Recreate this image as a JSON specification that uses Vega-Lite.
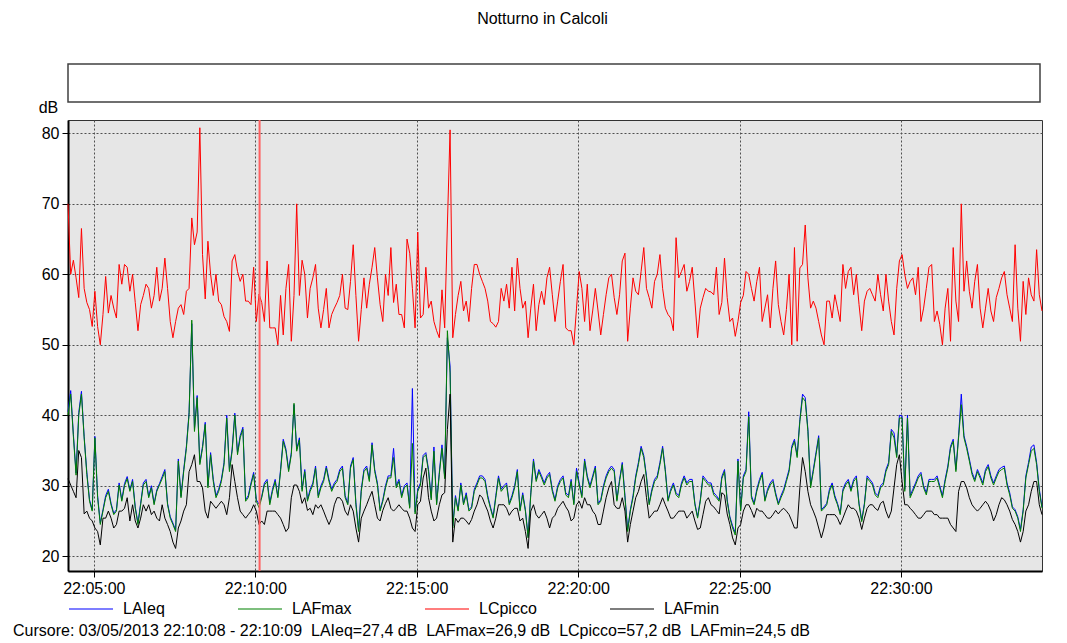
{
"$schema": "https://vega.github.io/schema/vega-lite/v6.json",
"autosize": {"type": "pad"},
"padding": {"left": 12, "top": 11, "right": 20, "bottom": 2},
"background": "white",
"title": {"text": "Notturno in Calcoli", "anchor": "middle", "fontSize": 16, "fontWeight": "normal", "color": "black", "offset": 36, "dx": 14},
"bounds": "flush",
"spacing": 18,
"resolve": {"legend": {"color": "independent"}, "scale": {"color": "independent"}},
"vconcat": [
{
"width": 972, "height": 38,
"data": {"values": [{"k": 1}]},
"mark": {"type": "text", "text": " "},
"encoding": {},
"view": {"fill": "white", "stroke": "#404040", "strokeWidth": 1.5}
},
{
"width": 974, "height": 451,
"view": {"fill": "#e6e6e6", "stroke": "#333333", "strokeWidth": 1},
"title": {"text": "Cursore: 03/05/2013 22:10:08 - 22:10:09 \u00a0LAIeq=27,4 dB \u00a0LAFmax=26,9 dB \u00a0LCpicco=57,2 dB \u00a0LAFmin=24,5 dB", "orient": "bottom", "anchor": "start", "frame": "group", "dx": -55, "offset": 6, "fontSize": 16, "fontWeight": "normal", "color": "black"},
"data": {"values": [
{"t":"2013-05-03T22:04:12","c":70,"m":40,"a":40.5,"n":31},
{"t":"2013-05-03T22:04:17","c":60,"m":43,"a":43.5,"n":30.1},
{"t":"2013-05-03T22:04:22","c":62,"m":37,"a":37.3,"n":29.2},
{"t":"2013-05-03T22:04:27","c":59.5,"m":31.5,"a":31.8,"n":28.3},
{"t":"2013-05-03T22:04:32","c":56.7,"m":40,"a":40.4,"n":35},
{"t":"2013-05-03T22:04:37","c":66.5,"m":43,"a":43.4,"n":34},
{"t":"2013-05-03T22:04:42","c":58,"m":36.8,"a":37,"n":26},
{"t":"2013-05-03T22:04:47","c":56,"m":31.6,"a":31.9,"n":26.4},
{"t":"2013-05-03T22:04:52","c":55,"m":27.8,"a":28,"n":25.4},
{"t":"2013-05-03T22:04:57","c":52.6,"m":26.4,"a":26.6,"n":25},
{"t":"2013-05-03T22:05:02","c":57.6,"m":36.8,"a":37,"n":24},
{"t":"2013-05-03T22:05:07","c":52.6,"m":28.3,"a":28.6,"n":23.5},
{"t":"2013-05-03T22:05:12","c":50,"m":24.5,"a":24.7,"n":21.6},
{"t":"2013-05-03T22:05:17","c":54.3,"m":26.4,"a":26.6,"n":25.4},
{"t":"2013-05-03T22:05:22","c":59.7,"m":28.3,"a":28.6,"n":25.4},
{"t":"2013-05-03T22:05:27","c":54.5,"m":29.2,"a":29.5,"n":26.4},
{"t":"2013-05-03T22:05:32","c":57,"m":27.3,"a":27.5,"n":25.4},
{"t":"2013-05-03T22:05:37","c":55.2,"m":25.9,"a":26.1,"n":24},
{"t":"2013-05-03T22:05:42","c":53.8,"m":26.4,"a":26.6,"n":24.5},
{"t":"2013-05-03T22:05:47","c":61.4,"m":30.1,"a":30.4,"n":26.4},
{"t":"2013-05-03T22:05:52","c":58.6,"m":27.8,"a":28,"n":26.4},
{"t":"2013-05-03T22:05:57","c":61.4,"m":30,"a":30.3,"n":26.8},
{"t":"2013-05-03T22:06:02","c":61,"m":31,"a":31.3,"n":28.3},
{"t":"2013-05-03T22:06:07","c":57.6,"m":29.2,"a":29.4,"n":25},
{"t":"2013-05-03T22:06:12","c":60,"m":30.6,"a":30.9,"n":27.3},
{"t":"2013-05-03T22:06:17","c":56,"m":26.8,"a":27,"n":25},
{"t":"2013-05-03T22:06:22","c":52,"m":24.5,"a":24.7,"n":24},
{"t":"2013-05-03T22:06:27","c":55.7,"m":27.3,"a":27.5,"n":25.4},
{"t":"2013-05-03T22:06:32","c":57,"m":30.1,"a":30.4,"n":27.3},
{"t":"2013-05-03T22:06:37","c":58.6,"m":30.6,"a":30.9,"n":26.4},
{"t":"2013-05-03T22:06:42","c":58,"m":28.3,"a":28.5,"n":27.3},
{"t":"2013-05-03T22:06:47","c":55.2,"m":29.7,"a":30,"n":25.9},
{"t":"2013-05-03T22:06:52","c":57,"m":27.3,"a":27.5,"n":26.4},
{"t":"2013-05-03T22:06:57","c":61,"m":29.2,"a":29.4,"n":25.4},
{"t":"2013-05-03T22:07:02","c":56.2,"m":30.1,"a":30.3,"n":25},
{"t":"2013-05-03T22:07:07","c":58,"m":31,"a":31.3,"n":27.3},
{"t":"2013-05-03T22:07:12","c":62.3,"m":32,"a":32.3,"n":25.4},
{"t":"2013-05-03T22:07:17","c":58,"m":27.3,"a":27.5,"n":24.5},
{"t":"2013-05-03T22:07:22","c":53.3,"m":25.4,"a":25.6,"n":23.5},
{"t":"2013-05-03T22:07:27","c":51,"m":24.5,"a":24.7,"n":22},
{"t":"2013-05-03T22:07:32","c":53.3,"m":23.5,"a":23.7,"n":21.1},
{"t":"2013-05-03T22:07:37","c":55.2,"m":33.5,"a":33.8,"n":24},
{"t":"2013-05-03T22:07:42","c":55.7,"m":28.3,"a":28.5,"n":25},
{"t":"2013-05-03T22:07:47","c":54.3,"m":32,"a":32.3,"n":26.4},
{"t":"2013-05-03T22:07:52","c":57.6,"m":35.3,"a":35.6,"n":27.3},
{"t":"2013-05-03T22:07:57","c":58,"m":40.1,"a":40.4,"n":32},
{"t":"2013-05-03T22:08:02","c":68,"m":53.5,"a":53,"n":33},
{"t":"2013-05-03T22:08:07","c":64.2,"m":37.7,"a":38,"n":34.4},
{"t":"2013-05-03T22:08:12","c":66,"m":42.5,"a":42.8,"n":30.6},
{"t":"2013-05-03T22:08:17","c":80.8,"m":33,"a":33.3,"n":30.6},
{"t":"2013-05-03T22:08:22","c":62.8,"m":35.3,"a":35.6,"n":29.7},
{"t":"2013-05-03T22:08:27","c":56.5,"m":38.7,"a":39,"n":26.4},
{"t":"2013-05-03T22:08:32","c":64.7,"m":29.7,"a":30,"n":25.4},
{"t":"2013-05-03T22:08:37","c":60,"m":34.4,"a":34.7,"n":27.8},
{"t":"2013-05-03T22:08:42","c":57,"m":30.6,"a":30.9,"n":27.3},
{"t":"2013-05-03T22:08:47","c":60,"m":28.3,"a":28.6,"n":26.8},
{"t":"2013-05-03T22:08:52","c":56.2,"m":29.2,"a":29.5,"n":27.3},
{"t":"2013-05-03T22:08:57","c":55.7,"m":30.6,"a":30.9,"n":27.8},
{"t":"2013-05-03T22:09:02","c":54,"m":33,"a":33.3,"n":27.3},
{"t":"2013-05-03T22:09:07","c":53.3,"m":39.6,"a":40,"n":25.9},
{"t":"2013-05-03T22:09:12","c":51.9,"m":32,"a":32.3,"n":28.3},
{"t":"2013-05-03T22:09:17","c":61.9,"m":34.9,"a":35.2,"n":33},
{"t":"2013-05-03T22:09:22","c":62.8,"m":40,"a":40.3,"n":30.6},
{"t":"2013-05-03T22:09:27","c":60.4,"m":34.4,"a":34.7,"n":28.3},
{"t":"2013-05-03T22:09:32","c":59,"m":36.8,"a":37.1,"n":26.4},
{"t":"2013-05-03T22:09:37","c":60,"m":38,"a":38.3,"n":25.9},
{"t":"2013-05-03T22:09:42","c":56.2,"m":27.8,"a":28,"n":25.4},
{"t":"2013-05-03T22:09:47","c":56.2,"m":28.3,"a":28.6,"n":25.9},
{"t":"2013-05-03T22:09:52","c":55.7,"m":30.1,"a":30.4,"n":26.4},
{"t":"2013-05-03T22:09:57","c":61,"m":31.6,"a":31.9,"n":27.3},
{"t":"2013-05-03T22:10:02","c":53.3,"m":27.8,"a":28,"n":26.4},
{"t":"2013-05-03T22:10:07","c":57.2,"m":26.9,"a":27.4,"n":24.5},
{"t":"2013-05-03T22:10:12","c":56,"m":28.3,"a":28.5,"n":25},
{"t":"2013-05-03T22:10:17","c":53.3,"m":30.1,"a":30.4,"n":24.5},
{"t":"2013-05-03T22:10:22","c":61.9,"m":30.6,"a":30.9,"n":26.4},
{"t":"2013-05-03T22:10:27","c":52.4,"m":27.3,"a":27.6,"n":26.4},
{"t":"2013-05-03T22:10:32","c":52.4,"m":29.2,"a":29.5,"n":26.4},
{"t":"2013-05-03T22:10:37","c":52.4,"m":30.6,"a":30.9,"n":26.4},
{"t":"2013-05-03T22:10:42","c":50,"m":28.3,"a":28.5,"n":25.9},
{"t":"2013-05-03T22:10:47","c":57,"m":32,"a":32.3,"n":25.4},
{"t":"2013-05-03T22:10:52","c":51.4,"m":36.3,"a":36.6,"n":24.5},
{"t":"2013-05-03T22:10:57","c":58,"m":34.9,"a":35.2,"n":23.5},
{"t":"2013-05-03T22:11:02","c":61.4,"m":32,"a":32.3,"n":24},
{"t":"2013-05-03T22:11:07","c":50.5,"m":34.4,"a":34.7,"n":28.3},
{"t":"2013-05-03T22:11:12","c":57,"m":41.7,"a":41.5,"n":30.1},
{"t":"2013-05-03T22:11:17","c":70,"m":34.9,"a":35.2,"n":30.1},
{"t":"2013-05-03T22:11:22","c":57,"m":36.5,"a":36.8,"n":29.2},
{"t":"2013-05-03T22:11:27","c":62,"m":29.2,"a":29.5,"n":27.5},
{"t":"2013-05-03T22:11:32","c":60,"m":32,"a":32.3,"n":28.3},
{"t":"2013-05-03T22:11:37","c":53.8,"m":27.8,"a":28,"n":26.5},
{"t":"2013-05-03T22:11:42","c":58,"m":29.2,"a":29.5,"n":26.8},
{"t":"2013-05-03T22:11:47","c":59.5,"m":30.1,"a":30.4,"n":25.9},
{"t":"2013-05-03T22:11:52","c":61.4,"m":32.5,"a":32.8,"n":27.3},
{"t":"2013-05-03T22:11:57","c":55.2,"m":28.3,"a":28.6,"n":26.8},
{"t":"2013-05-03T22:12:02","c":52.4,"m":29.7,"a":30,"n":27.3},
{"t":"2013-05-03T22:12:07","c":55,"m":30.6,"a":30.9,"n":26.4},
{"t":"2013-05-03T22:12:12","c":58,"m":32.5,"a":32.8,"n":25.4},
{"t":"2013-05-03T22:12:17","c":52.4,"m":30.6,"a":30.9,"n":24.5},
{"t":"2013-05-03T22:12:22","c":54.3,"m":29.2,"a":29.5,"n":25.4},
{"t":"2013-05-03T22:12:27","c":55.2,"m":30.1,"a":30.4,"n":27.3},
{"t":"2013-05-03T22:12:32","c":56,"m":30.6,"a":30.9,"n":28.3},
{"t":"2013-05-03T22:12:37","c":57,"m":32,"a":32.3,"n":28.3},
{"t":"2013-05-03T22:12:42","c":60,"m":32.5,"a":32.8,"n":27.8},
{"t":"2013-05-03T22:12:47","c":55.2,"m":28.3,"a":28.6,"n":26.4},
{"t":"2013-05-03T22:12:52","c":55,"m":27.3,"a":27.5,"n":25.8},
{"t":"2013-05-03T22:12:57","c":59,"m":32.5,"a":32.8,"n":27.3},
{"t":"2013-05-03T22:13:02","c":64.2,"m":33.7,"a":34,"n":26.4},
{"t":"2013-05-03T22:13:07","c":57,"m":27.3,"a":27.6,"n":24},
{"t":"2013-05-03T22:13:12","c":50.5,"m":23.5,"a":23.8,"n":22},
{"t":"2013-05-03T22:13:17","c":55,"m":29.2,"a":29.5,"n":25.4},
{"t":"2013-05-03T22:13:22","c":59.5,"m":32,"a":32.3,"n":26.4},
{"t":"2013-05-03T22:13:27","c":55.2,"m":32.5,"a":32.8,"n":27.3},
{"t":"2013-05-03T22:13:32","c":58.6,"m":30.6,"a":30.9,"n":28.3},
{"t":"2013-05-03T22:13:37","c":61,"m":35.8,"a":36.1,"n":29.2},
{"t":"2013-05-03T22:13:42","c":63.8,"m":32,"a":32.3,"n":27.3},
{"t":"2013-05-03T22:13:47","c":59.5,"m":30.1,"a":30.4,"n":25.4},
{"t":"2013-05-03T22:13:52","c":55.7,"m":26.4,"a":26.6,"n":25},
{"t":"2013-05-03T22:13:57","c":53.3,"m":27.8,"a":28,"n":26.5},
{"t":"2013-05-03T22:14:02","c":60,"m":29.7,"a":30,"n":27.5},
{"t":"2013-05-03T22:14:07","c":57,"m":31.1,"a":31.4,"n":28.3},
{"t":"2013-05-03T22:14:12","c":63.8,"m":31.1,"a":31.4,"n":26.8},
{"t":"2013-05-03T22:14:17","c":56,"m":34,"a":35.3,"n":26.4},
{"t":"2013-05-03T22:14:22","c":58.6,"m":29.7,"a":30,"n":26.8},
{"t":"2013-05-03T22:14:27","c":54.3,"m":30.6,"a":30.9,"n":27.3},
{"t":"2013-05-03T22:14:32","c":54.3,"m":28.3,"a":28.6,"n":26.8},
{"t":"2013-05-03T22:14:37","c":52.4,"m":29.7,"a":30,"n":26.4},
{"t":"2013-05-03T22:14:42","c":65,"m":30.1,"a":30.4,"n":26.4},
{"t":"2013-05-03T22:14:47","c":63,"m":26.8,"a":27,"n":25.4},
{"t":"2013-05-03T22:14:52","c":58,"m":36,"a":43.8,"n":24},
{"t":"2013-05-03T22:14:57","c":52.4,"m":26,"a":26.3,"n":23.5},
{"t":"2013-05-03T22:15:02","c":66,"m":29.2,"a":29.5,"n":27.3},
{"t":"2013-05-03T22:15:07","c":53.8,"m":30.1,"a":30.4,"n":27.8},
{"t":"2013-05-03T22:15:12","c":54.3,"m":34,"a":34.3,"n":31.1},
{"t":"2013-05-03T22:15:17","c":61,"m":34.4,"a":34.7,"n":32.5},
{"t":"2013-05-03T22:15:22","c":55.2,"m":32,"a":32.3,"n":28.3},
{"t":"2013-05-03T22:15:27","c":56.2,"m":28,"a":28.3,"n":26.4},
{"t":"2013-05-03T22:15:32","c":53.3,"m":34.9,"a":35.5,"n":25},
{"t":"2013-05-03T22:15:37","c":52,"m":27.3,"a":27.5,"n":25.4},
{"t":"2013-05-03T22:15:42","c":51,"m":31.6,"a":31.9,"n":27.3},
{"t":"2013-05-03T22:15:47","c":57.8,"m":35.3,"a":35.8,"n":28.7},
{"t":"2013-05-03T22:15:52","c":52.4,"m":31,"a":31.3,"n":29},
{"t":"2013-05-03T22:15:57","c":67,"m":52,"a":51,"n":38},
{"t":"2013-05-03T22:16:02","c":80.5,"m":46,"a":47,"n":43},
{"t":"2013-05-03T22:16:07","c":51,"m":24,"a":24.3,"n":22},
{"t":"2013-05-03T22:16:12","c":54.3,"m":28.3,"a":28.6,"n":25.4},
{"t":"2013-05-03T22:16:17","c":57,"m":26.4,"a":26.6,"n":24.8},
{"t":"2013-05-03T22:16:22","c":59,"m":30.1,"a":30.4,"n":25.4},
{"t":"2013-05-03T22:16:27","c":54.8,"m":27.3,"a":27.5,"n":25.4},
{"t":"2013-05-03T22:16:32","c":56.2,"m":28.7,"a":29,"n":25},
{"t":"2013-05-03T22:16:37","c":53.3,"m":26.4,"a":26.6,"n":24.5},
{"t":"2013-05-03T22:16:42","c":58,"m":26.8,"a":27,"n":25.2},
{"t":"2013-05-03T22:16:47","c":61.4,"m":29.2,"a":29.5,"n":26.4},
{"t":"2013-05-03T22:16:52","c":61.4,"m":30.1,"a":30.4,"n":27.3},
{"t":"2013-05-03T22:16:57","c":60,"m":31.1,"a":31.4,"n":28.7},
{"t":"2013-05-03T22:17:02","c":59,"m":31.1,"a":31.4,"n":28.3},
{"t":"2013-05-03T22:17:07","c":58,"m":30.6,"a":30.9,"n":27.3},
{"t":"2013-05-03T22:17:12","c":56.2,"m":28.3,"a":28.6,"n":26.4},
{"t":"2013-05-03T22:17:17","c":53.3,"m":26.8,"a":27,"n":25},
{"t":"2013-05-03T22:17:22","c":53,"m":25.4,"a":25.6,"n":24},
{"t":"2013-05-03T22:17:27","c":52.5,"m":28.3,"a":28.6,"n":25.4},
{"t":"2013-05-03T22:17:32","c":53.3,"m":31.1,"a":31.4,"n":27.3},
{"t":"2013-05-03T22:17:37","c":58,"m":29.2,"a":29.5,"n":27.3},
{"t":"2013-05-03T22:17:42","c":56.2,"m":29.7,"a":30,"n":27.3},
{"t":"2013-05-03T22:17:47","c":58.6,"m":30.1,"a":30.4,"n":26.8},
{"t":"2013-05-03T22:17:52","c":55.2,"m":27.3,"a":27.5,"n":25.8},
{"t":"2013-05-03T22:17:57","c":61,"m":28.3,"a":28.6,"n":26.4},
{"t":"2013-05-03T22:18:02","c":54.8,"m":29.7,"a":30,"n":26.8},
{"t":"2013-05-03T22:18:07","c":62.3,"m":32,"a":32.3,"n":26.8},
{"t":"2013-05-03T22:18:12","c":58,"m":26.4,"a":26.6,"n":25},
{"t":"2013-05-03T22:18:17","c":55.2,"m":28.7,"a":29,"n":25.4},
{"t":"2013-05-03T22:18:22","c":56.2,"m":26.4,"a":26.6,"n":23.5},
{"t":"2013-05-03T22:18:27","c":51,"m":22.6,"a":22.8,"n":21.1},
{"t":"2013-05-03T22:18:32","c":55.2,"m":28.7,"a":29,"n":26.4},
{"t":"2013-05-03T22:18:37","c":58.6,"m":33.5,"a":33.8,"n":27.3},
{"t":"2013-05-03T22:18:42","c":52,"m":30.6,"a":30.9,"n":25.9},
{"t":"2013-05-03T22:18:47","c":55.7,"m":32,"a":32.3,"n":25.4},
{"t":"2013-05-03T22:18:52","c":57.6,"m":31.1,"a":31.4,"n":25.9},
{"t":"2013-05-03T22:18:57","c":55.7,"m":30.1,"a":30.4,"n":26.4},
{"t":"2013-05-03T22:19:02","c":59.5,"m":31.1,"a":31.4,"n":25.4},
{"t":"2013-05-03T22:19:07","c":61,"m":31.6,"a":31.9,"n":24},
{"t":"2013-05-03T22:19:12","c":57.1,"m":29.2,"a":29.5,"n":25.4},
{"t":"2013-05-03T22:19:17","c":53.3,"m":27.8,"a":28,"n":25.8},
{"t":"2013-05-03T22:19:22","c":56.2,"m":29.7,"a":30,"n":26.8},
{"t":"2013-05-03T22:19:27","c":59,"m":30.6,"a":30.9,"n":27.3},
{"t":"2013-05-03T22:19:32","c":61.4,"m":31.1,"a":31.4,"n":27.8},
{"t":"2013-05-03T22:19:37","c":52.4,"m":28.7,"a":29,"n":27},
{"t":"2013-05-03T22:19:42","c":52,"m":28.3,"a":28.6,"n":26.4},
{"t":"2013-05-03T22:19:47","c":52,"m":30.6,"a":30.9,"n":25},
{"t":"2013-05-03T22:19:52","c":50,"m":27.3,"a":27.5,"n":25.4},
{"t":"2013-05-03T22:19:57","c":55.2,"m":32,"a":32.5,"n":27.3},
{"t":"2013-05-03T22:20:02","c":60.4,"m":30.1,"a":30.4,"n":27.8},
{"t":"2013-05-03T22:20:07","c":58,"m":28.3,"a":28.6,"n":26.8},
{"t":"2013-05-03T22:20:12","c":53.3,"m":33.5,"a":33.8,"n":28.3},
{"t":"2013-05-03T22:20:17","c":58.6,"m":31.1,"a":31.4,"n":27.3},
{"t":"2013-05-03T22:20:22","c":52,"m":29.7,"a":30,"n":27.3},
{"t":"2013-05-03T22:20:27","c":54.8,"m":31.1,"a":31.4,"n":26.4},
{"t":"2013-05-03T22:20:32","c":58,"m":32.5,"a":32.8,"n":25.9},
{"t":"2013-05-03T22:20:37","c":54.8,"m":27.3,"a":27.5,"n":24.5},
{"t":"2013-05-03T22:20:42","c":51.4,"m":27.8,"a":28,"n":24.5},
{"t":"2013-05-03T22:20:47","c":54.3,"m":29.7,"a":30,"n":26.4},
{"t":"2013-05-03T22:20:52","c":57.1,"m":31.1,"a":31.4,"n":28.3},
{"t":"2013-05-03T22:20:57","c":59.5,"m":32,"a":32.3,"n":29.7},
{"t":"2013-05-03T22:21:02","c":60,"m":32.5,"a":32.8,"n":30.6},
{"t":"2013-05-03T22:21:07","c":56.7,"m":32,"a":32.3,"n":27.3},
{"t":"2013-05-03T22:21:12","c":54.3,"m":27.8,"a":28,"n":26.8},
{"t":"2013-05-03T22:21:17","c":57.1,"m":30.6,"a":30.9,"n":26.8},
{"t":"2013-05-03T22:21:22","c":61.9,"m":33,"a":33.3,"n":28.3},
{"t":"2013-05-03T22:21:27","c":63,"m":28.3,"a":28.6,"n":26.4},
{"t":"2013-05-03T22:21:32","c":50.5,"m":23.5,"a":23.8,"n":22},
{"t":"2013-05-03T22:21:37","c":55.2,"m":26.4,"a":26.6,"n":24.5},
{"t":"2013-05-03T22:21:42","c":59.5,"m":28.3,"a":28.6,"n":26.4},
{"t":"2013-05-03T22:21:47","c":57.6,"m":31.1,"a":31.4,"n":28.3},
{"t":"2013-05-03T22:21:52","c":57.1,"m":33,"a":33.3,"n":29.2},
{"t":"2013-05-03T22:21:57","c":60.4,"m":35.3,"a":35.6,"n":30.6},
{"t":"2013-05-03T22:22:02","c":63.8,"m":34,"a":34.3,"n":31.6},
{"t":"2013-05-03T22:22:07","c":58,"m":31.1,"a":31.4,"n":28.3},
{"t":"2013-05-03T22:22:12","c":56.7,"m":27.3,"a":27.5,"n":25.4},
{"t":"2013-05-03T22:22:17","c":55.2,"m":29.2,"a":29.5,"n":25.9},
{"t":"2013-05-03T22:22:22","c":59,"m":30.6,"a":30.9,"n":26.4},
{"t":"2013-05-03T22:22:27","c":60,"m":31.1,"a":31.4,"n":26.4},
{"t":"2013-05-03T22:22:32","c":62.8,"m":33,"a":33.3,"n":27.3},
{"t":"2013-05-03T22:22:37","c":58,"m":35.3,"a":35.6,"n":28.3},
{"t":"2013-05-03T22:22:42","c":55.2,"m":32,"a":32.3,"n":27.3},
{"t":"2013-05-03T22:22:47","c":54.3,"m":27.8,"a":28,"n":26.4},
{"t":"2013-05-03T22:22:52","c":53.8,"m":29.2,"a":29.5,"n":25.4},
{"t":"2013-05-03T22:22:57","c":52,"m":30.1,"a":30.4,"n":25.4},
{"t":"2013-05-03T22:23:02","c":65.2,"m":28.7,"a":29,"n":25.9},
{"t":"2013-05-03T22:23:07","c":59.5,"m":28.3,"a":28.6,"n":26.4},
{"t":"2013-05-03T22:23:12","c":60.4,"m":30.1,"a":30.4,"n":26.4},
{"t":"2013-05-03T22:23:17","c":61.4,"m":31.1,"a":31.4,"n":26.4},
{"t":"2013-05-03T22:23:22","c":57.6,"m":30.1,"a":30.4,"n":25.4},
{"t":"2013-05-03T22:23:27","c":59,"m":30.6,"a":30.9,"n":25.9},
{"t":"2013-05-03T22:23:32","c":61,"m":30.6,"a":30.9,"n":26.4},
{"t":"2013-05-03T22:23:37","c":56.2,"m":27.3,"a":27.5,"n":25},
{"t":"2013-05-03T22:23:42","c":51,"m":25.4,"a":25.6,"n":23.8},
{"t":"2013-05-03T22:23:47","c":55.2,"m":27.8,"a":28,"n":24},
{"t":"2013-05-03T22:23:52","c":56.7,"m":31.1,"a":31.4,"n":25.9},
{"t":"2013-05-03T22:23:57","c":58,"m":30.6,"a":30.9,"n":27.8},
{"t":"2013-05-03T22:24:02","c":57.6,"m":30.1,"a":30.4,"n":28.3},
{"t":"2013-05-03T22:24:07","c":57.5,"m":30.1,"a":30.4,"n":27.3},
{"t":"2013-05-03T22:24:12","c":57.1,"m":28.7,"a":29,"n":27},
{"t":"2013-05-03T22:24:17","c":61,"m":28.3,"a":28.6,"n":26.5},
{"t":"2013-05-03T22:24:22","c":54.3,"m":27.8,"a":28,"n":26},
{"t":"2013-05-03T22:24:27","c":56,"m":31,"a":31.3,"n":29},
{"t":"2013-05-03T22:24:32","c":62.3,"m":32,"a":32.3,"n":28.7},
{"t":"2013-05-03T22:24:37","c":56.7,"m":27.8,"a":28,"n":26},
{"t":"2013-05-03T22:24:42","c":53.3,"m":25.4,"a":25.6,"n":24.5},
{"t":"2013-05-03T22:24:47","c":53.8,"m":24,"a":24.3,"n":22.6},
{"t":"2013-05-03T22:24:52","c":51.2,"m":23,"a":23.3,"n":21.6},
{"t":"2013-05-03T22:24:57","c":53.3,"m":33.5,"a":33.8,"n":24},
{"t":"2013-05-03T22:25:02","c":56,"m":26.4,"a":26.6,"n":24.5},
{"t":"2013-05-03T22:25:07","c":57,"m":31.1,"a":31.4,"n":26.4},
{"t":"2013-05-03T22:25:12","c":60.4,"m":32,"a":32.3,"n":27.3},
{"t":"2013-05-03T22:25:17","c":60,"m":39.8,"a":40.5,"n":27.3},
{"t":"2013-05-03T22:25:22","c":58,"m":28.3,"a":28.6,"n":26.5},
{"t":"2013-05-03T22:25:27","c":56.2,"m":27.3,"a":27.5,"n":25.5},
{"t":"2013-05-03T22:25:32","c":59,"m":29.2,"a":29.5,"n":26.8},
{"t":"2013-05-03T22:25:37","c":61,"m":30.6,"a":30.9,"n":26.4},
{"t":"2013-05-03T22:25:42","c":53.3,"m":31.6,"a":31.9,"n":26.4},
{"t":"2013-05-03T22:25:47","c":55.2,"m":27.8,"a":28,"n":25.9},
{"t":"2013-05-03T22:25:52","c":57.1,"m":29.2,"a":29.5,"n":25.4},
{"t":"2013-05-03T22:25:57","c":52.4,"m":30.1,"a":30.4,"n":25.4},
{"t":"2013-05-03T22:26:02","c":58,"m":30.6,"a":30.9,"n":25.9},
{"t":"2013-05-03T22:26:07","c":61.9,"m":28.7,"a":29,"n":26.5},
{"t":"2013-05-03T22:26:12","c":55.7,"m":27.3,"a":27.5,"n":26},
{"t":"2013-05-03T22:26:17","c":53.3,"m":28.3,"a":28.6,"n":26.5},
{"t":"2013-05-03T22:26:22","c":51.4,"m":29.2,"a":29.5,"n":26.8},
{"t":"2013-05-03T22:26:27","c":55,"m":30.6,"a":30.9,"n":26.4},
{"t":"2013-05-03T22:26:32","c":60,"m":32,"a":32.3,"n":25.9},
{"t":"2013-05-03T22:26:37","c":50,"m":35.3,"a":35.6,"n":25},
{"t":"2013-05-03T22:26:42","c":63.8,"m":36.3,"a":36.6,"n":24},
{"t":"2013-05-03T22:26:47","c":50.5,"m":34,"a":34.3,"n":24},
{"t":"2013-05-03T22:26:52","c":60.9,"m":39.1,"a":39.4,"n":29.7},
{"t":"2013-05-03T22:26:57","c":61.4,"m":42.5,"a":43,"n":34},
{"t":"2013-05-03T22:27:02","c":67,"m":42,"a":42.5,"n":32},
{"t":"2013-05-03T22:27:07","c":59.5,"m":37.7,"a":38,"n":29.2},
{"t":"2013-05-03T22:27:12","c":55.2,"m":29.7,"a":30,"n":27.3},
{"t":"2013-05-03T22:27:17","c":56.2,"m":32,"a":32.3,"n":26.4},
{"t":"2013-05-03T22:27:22","c":55.2,"m":34.4,"a":34.7,"n":25.4},
{"t":"2013-05-03T22:27:27","c":53.3,"m":36.8,"a":37.1,"n":24},
{"t":"2013-05-03T22:27:32","c":51.4,"m":26.4,"a":26.6,"n":22.6},
{"t":"2013-05-03T22:27:37","c":50,"m":26.8,"a":27,"n":24},
{"t":"2013-05-03T22:27:42","c":56.2,"m":27.3,"a":27.5,"n":25.9},
{"t":"2013-05-03T22:27:47","c":56.2,"m":29.2,"a":29.5,"n":25.9},
{"t":"2013-05-03T22:27:52","c":53.8,"m":30.1,"a":30.4,"n":25.9},
{"t":"2013-05-03T22:27:57","c":57.1,"m":28.3,"a":28.6,"n":25.9},
{"t":"2013-05-03T22:28:02","c":55.2,"m":27.3,"a":27.5,"n":25.4},
{"t":"2013-05-03T22:28:07","c":53.3,"m":25.9,"a":26.1,"n":24.5},
{"t":"2013-05-03T22:28:12","c":61.4,"m":29.2,"a":29.5,"n":25.4},
{"t":"2013-05-03T22:28:17","c":58,"m":30.1,"a":30.4,"n":26.4},
{"t":"2013-05-03T22:28:22","c":60.4,"m":30.6,"a":30.9,"n":27.3},
{"t":"2013-05-03T22:28:27","c":61,"m":29.2,"a":29.5,"n":26.8},
{"t":"2013-05-03T22:28:32","c":57.1,"m":30.6,"a":30.9,"n":26.8},
{"t":"2013-05-03T22:28:37","c":60,"m":31.1,"a":31.4,"n":26.4},
{"t":"2013-05-03T22:28:42","c":55.7,"m":27.3,"a":27.5,"n":25.4},
{"t":"2013-05-03T22:28:47","c":52,"m":24.9,"a":25.1,"n":23.8},
{"t":"2013-05-03T22:28:52","c":56.2,"m":27.3,"a":27.5,"n":25.4},
{"t":"2013-05-03T22:28:57","c":57.6,"m":31.1,"a":31.4,"n":26.8},
{"t":"2013-05-03T22:29:02","c":58,"m":30.6,"a":30.9,"n":27.3},
{"t":"2013-05-03T22:29:07","c":57.1,"m":30.1,"a":30.4,"n":27.3},
{"t":"2013-05-03T22:29:12","c":56.2,"m":28.7,"a":29,"n":26.8},
{"t":"2013-05-03T22:29:17","c":60,"m":28.3,"a":28.6,"n":26.5},
{"t":"2013-05-03T22:29:22","c":57.1,"m":29.7,"a":30,"n":27.5},
{"t":"2013-05-03T22:29:27","c":54.8,"m":30.1,"a":30.4,"n":27.8},
{"t":"2013-05-03T22:29:32","c":60,"m":32,"a":32.3,"n":26.4},
{"t":"2013-05-03T22:29:37","c":56.2,"m":33,"a":33.3,"n":25.4},
{"t":"2013-05-03T22:29:42","c":53.3,"m":37.7,"a":38,"n":26.4},
{"t":"2013-05-03T22:29:47","c":51.4,"m":36.8,"a":37.5,"n":29.7},
{"t":"2013-05-03T22:29:52","c":58,"m":34,"a":34.3,"n":33},
{"t":"2013-05-03T22:29:57","c":61.9,"m":39.6,"a":40,"n":34.4},
{"t":"2013-05-03T22:30:02","c":62.8,"m":39.6,"a":39.9,"n":30.6},
{"t":"2013-05-03T22:30:07","c":60,"m":29.2,"a":29.5,"n":27.3},
{"t":"2013-05-03T22:30:12","c":58,"m":39.6,"a":40,"n":27.3},
{"t":"2013-05-03T22:30:17","c":59,"m":28.3,"a":28.6,"n":26.8},
{"t":"2013-05-03T22:30:22","c":59.5,"m":29.2,"a":29.5,"n":26.4},
{"t":"2013-05-03T22:30:27","c":57.1,"m":30.1,"a":30.4,"n":25.9},
{"t":"2013-05-03T22:30:32","c":61,"m":31.1,"a":31.4,"n":25.4},
{"t":"2013-05-03T22:30:37","c":53.3,"m":31.6,"a":31.9,"n":25.4},
{"t":"2013-05-03T22:30:42","c":55.2,"m":29.7,"a":30,"n":25.9},
{"t":"2013-05-03T22:30:47","c":58,"m":28.7,"a":29,"n":26.4},
{"t":"2013-05-03T22:30:52","c":61,"m":30.6,"a":30.9,"n":26.4},
{"t":"2013-05-03T22:30:57","c":61.4,"m":30.6,"a":30.9,"n":26.4},
{"t":"2013-05-03T22:31:02","c":53.3,"m":30.6,"a":30.9,"n":25.9},
{"t":"2013-05-03T22:31:07","c":54.8,"m":31.1,"a":31.4,"n":25.9},
{"t":"2013-05-03T22:31:12","c":52.9,"m":29.7,"a":30,"n":25.4},
{"t":"2013-05-03T22:31:17","c":50,"m":28.3,"a":28.6,"n":25.4},
{"t":"2013-05-03T22:31:22","c":55.2,"m":30.6,"a":30.9,"n":25.4},
{"t":"2013-05-03T22:31:27","c":58,"m":32.5,"a":32.8,"n":25.4},
{"t":"2013-05-03T22:31:32","c":50.5,"m":35.3,"a":35.6,"n":24.5},
{"t":"2013-05-03T22:31:37","c":63.8,"m":36.3,"a":36.6,"n":24},
{"t":"2013-05-03T22:31:42","c":56.2,"m":32,"a":32.3,"n":23.5},
{"t":"2013-05-03T22:31:47","c":53.3,"m":36.8,"a":37.1,"n":29.2},
{"t":"2013-05-03T22:31:52","c":70,"m":41.5,"a":43,"n":30.6},
{"t":"2013-05-03T22:31:57","c":57.6,"m":36.8,"a":37.1,"n":30.6},
{"t":"2013-05-03T22:32:02","c":61.9,"m":35.3,"a":35.6,"n":29.7},
{"t":"2013-05-03T22:32:07","c":57.6,"m":33.5,"a":33.8,"n":28.3},
{"t":"2013-05-03T22:32:12","c":55.2,"m":31.6,"a":31.9,"n":27.3},
{"t":"2013-05-03T22:32:17","c":59,"m":30.6,"a":30.9,"n":26.8},
{"t":"2013-05-03T22:32:22","c":61.4,"m":32,"a":32.3,"n":26.4},
{"t":"2013-05-03T22:32:27","c":55.2,"m":31.1,"a":31.4,"n":26.8},
{"t":"2013-05-03T22:32:32","c":52.4,"m":30.1,"a":30.4,"n":27.3},
{"t":"2013-05-03T22:32:37","c":55.2,"m":32,"a":32.3,"n":27.8},
{"t":"2013-05-03T22:32:42","c":58,"m":32.7,"a":33,"n":27.3},
{"t":"2013-05-03T22:32:47","c":54.8,"m":31.1,"a":31.4,"n":26.4},
{"t":"2013-05-03T22:32:52","c":53.3,"m":30.1,"a":30.4,"n":25},
{"t":"2013-05-03T22:32:57","c":56.7,"m":31.1,"a":31.4,"n":25.9},
{"t":"2013-05-03T22:33:02","c":58,"m":32,"a":32.3,"n":27.3},
{"t":"2013-05-03T22:33:07","c":59.5,"m":32.3,"a":32.6,"n":28.3},
{"t":"2013-05-03T22:33:12","c":60.4,"m":32.5,"a":32.8,"n":28},
{"t":"2013-05-03T22:33:17","c":57.1,"m":30.1,"a":30.4,"n":27.3},
{"t":"2013-05-03T22:33:22","c":55.2,"m":28.7,"a":29,"n":26.4},
{"t":"2013-05-03T22:33:27","c":53.3,"m":26.8,"a":27,"n":25.2},
{"t":"2013-05-03T22:33:32","c":64.2,"m":26.4,"a":26.6,"n":24.5},
{"t":"2013-05-03T22:33:37","c":55.2,"m":25.4,"a":25.6,"n":23.5},
{"t":"2013-05-03T22:33:42","c":50.5,"m":23.5,"a":23.8,"n":22},
{"t":"2013-05-03T22:33:47","c":59,"m":26.4,"a":26.6,"n":23.5},
{"t":"2013-05-03T22:33:52","c":54.3,"m":31.1,"a":31.4,"n":26.4},
{"t":"2013-05-03T22:33:57","c":59.5,"m":33,"a":33.3,"n":27.3},
{"t":"2013-05-03T22:34:02","c":57.1,"m":34.9,"a":35.5,"n":29.2},
{"t":"2013-05-03T22:34:07","c":56.2,"m":35.3,"a":35.8,"n":30.6},
{"t":"2013-05-03T22:34:12","c":63.5,"m":33,"a":33.3,"n":30.6},
{"t":"2013-05-03T22:34:17","c":57.1,"m":29.2,"a":29.5,"n":27.3},
{"t":"2013-05-03T22:34:22","c":54.8,"m":26.8,"a":27,"n":25.9}
]},
"encoding": {
"x": {"field": "t", "type": "temporal",
"axis": {"format": "%H:%M:%S", "tickCount": 7, "title": null, "labelFlush": false, "labelOverlap": false}}
},
"layer": [
{"mark": {"type": "line", "strokeWidth": 1}, "encoding": {
"y": {"field": "a", "type": "quantitative", "scale": {"domain": [17.9, 81.9], "nice": false, "zero": false},
"axis": {"values": [20, 30, 40, 50, 60, 70, 80], "title": "dB", "titleAngle": 0, "titleX": -20, "titleY": -5, "titleAlign": "center", "titleBaseline": "bottom"}},
"color": {"datum": "LAIeq", "type": "nominal",
"scale": {"domain": ["LAIeq", "LAFmax", "LCpicco", "LAFmin"], "range": ["#0000ff", "#008000", "#ff0000", "#000000"]},
"legend": {"orient": "bottom", "direction": "horizontal", "title": null, "columns": 4, "columnPadding": 69, "symbolType": "stroke", "symbolSize": 1936, "symbolStrokeWidth": 2, "symbolOpacity": 0.5, "labelFontSize": 16, "labelColor": "black", "labelOffset": 9, "offset": -10, "padding": 0}}}},
{"mark": {"type": "line", "strokeWidth": 1}, "encoding": {"y": {"field": "m", "type": "quantitative"}, "color": {"datum": "LAFmax", "type": "nominal"}}},
{"mark": {"type": "line", "strokeWidth": 1}, "encoding": {"y": {"field": "c", "type": "quantitative"}, "color": {"datum": "LCpicco", "type": "nominal"}}},
{"mark": {"type": "line", "strokeWidth": 1}, "encoding": {"y": {"field": "n", "type": "quantitative"}, "color": {"datum": "LAFmin", "type": "nominal"}}},
{"data": {"values": [{"t": "2013-05-03T22:10:08"}]},
"mark": {"type": "rule", "color": "#ff6060", "strokeWidth": 2},
"encoding": {"x": {"field": "t", "type": "temporal"}}}
]
}
],
"config": {
"font": "Liberation Sans",
"axis": {"labelFontSize": 16, "labelColor": "black", "titleFontSize": 16, "titleFontWeight": "normal", "titleColor": "black", "tickColor": "black", "tickSize": 6, "labelPadding": 3, "domainColor": "black", "domainWidth": 2, "gridColor": "#505050", "gridDash": [2, 2], "gridOpacity": 1, "gridWidth": 1}
}
}
